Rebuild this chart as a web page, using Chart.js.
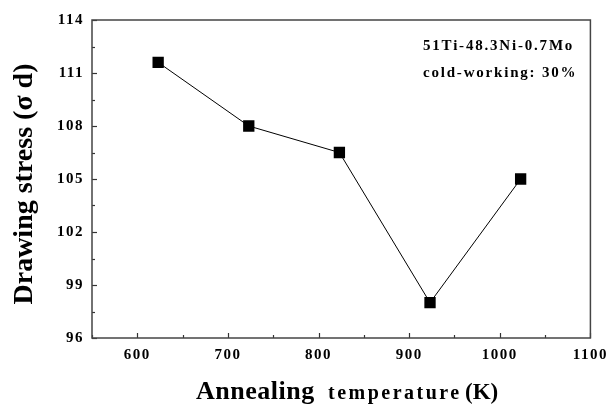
<!DOCTYPE html>
<html>
<head>
<meta charset="utf-8">
<script src="https://cdn.jsdelivr.net/npm/chart.js@4"></script>
<style>
  html, body { margin: 0; padding: 0; background: #fff; }
  #wrap { width: 613px; height: 405px; }
</style>
</head>
<body>
<div id="wrap"><canvas id="stressChart" width="613" height="405"></canvas></div>
<script>
/* =========================
   DATA
========================= */

const temps = [623, 723, 823, 923, 1023];
const stress = [111.6, 108.0, 106.5, 98.0, 105.0];
const xTicks = [600, 700, 800, 900, 1000, 1100];
const yTicks = [96, 99, 102, 105, 108, 111, 114];
const notes = ["51Ti-48.3Ni-0.7Mo", "cold-working: 30%"];

const SERIF = '"Liberation Serif", "Times New Roman", serif';

/* =========================
   FRAME, INWARD TICKS, TITLES
========================= */

const framePlugin = {
  id: "frame",
  beforeDraw(chart) {
    // spaced-out tick labels like the scanned figure
    chart.ctx.letterSpacing = "1.5px";
  },
  afterDraw(chart) {
    const ctx = chart.ctx;
    const a = chart.chartArea;
    const xs = chart.scales.x;
    const ys = chart.scales.y;
    ctx.letterSpacing = "0px";
    ctx.save();

    ctx.strokeStyle = "#333";
    ctx.lineWidth = 1.2;

    // minor + major ticks on the bottom axis
    for (let v = 550; v <= 1100; v += 50) {
      const px = Math.round(xs.getPixelForValue(v)) + 0.5;
      const len = v % 100 === 0 ? 5 : 3;
      ctx.beginPath();
      ctx.moveTo(px, a.bottom);
      ctx.lineTo(px, a.bottom - len);
      ctx.stroke();
    }

    // minor + major ticks on the left axis
    for (let v = 96; v <= 114; v += 1.5) {
      const py = Math.round(ys.getPixelForValue(v)) + 0.5;
      const len = v % 3 === 0 ? 5 : 3;
      ctx.beginPath();
      ctx.moveTo(a.left, py);
      ctx.lineTo(a.left + len, py);
      ctx.stroke();
    }

    ctx.lineWidth = 1.5;
    ctx.strokeStyle = "#444";
    ctx.strokeRect(a.left, a.top, a.right - a.left, a.bottom - a.top);

    // note in top right
    ctx.fillStyle = "#000";
    ctx.font = "bold 15px " + SERIF;
    ctx.textAlign = "left";
    ctx.textBaseline = "alphabetic";
    ctx.letterSpacing = "1.8px";
    ctx.fillText(notes[0], 423, 50);
    ctx.fillText(notes[1], 423, 77);

    // x title, mixed sizes
    ctx.letterSpacing = "0.5px";
    ctx.font = "bold 26px " + SERIF;
    ctx.fillText("Annealing", 196, 399);
    ctx.letterSpacing = "2.5px";
    ctx.font = "bold 20px " + SERIF;
    ctx.fillText("temperature", 328, 399);
    ctx.letterSpacing = "0px";
    ctx.font = "bold 23px " + SERIF;
    ctx.fillText("(K)", 465, 399);

    // y title
    ctx.translate(25, 184);
    ctx.rotate(-Math.PI / 2);
    ctx.textAlign = "center";
    ctx.textBaseline = "middle";
    ctx.font = "bold 28px " + SERIF;
    ctx.fillText("Drawing stress (\u03c3 d)", 0, 0);

    ctx.restore();
  },
};

/* =========================
   CHART
========================= */

const points = temps.map((t, i) => ({ x: t, y: stress[i] }));

new Chart(document.getElementById("stressChart"), {
  type: "line",
  data: {
    datasets: [
      {
        data: points,
        borderColor: "#000",
        borderWidth: 1,
        backgroundColor: "#000",
        pointStyle: "rect",
        pointRadius: 8,
        pointHoverRadius: 8,
        pointBorderWidth: 0,
        tension: 0,
      },
    ],
  },
  options: {
    responsive: false,
    animation: false,
    events: [],
    layout: { padding: { left: 0, right: 20, top: 20, bottom: 0 } },
    plugins: { legend: { display: false }, tooltip: { enabled: false } },
    scales: {
      x: {
        type: "linear",
        min: 550,
        max: 1100,
        afterBuildTicks(scale) {
          scale.ticks = xTicks.map((v) => ({ value: v }));
        },
        afterFit(scale) {
          scale.height = 67;
        },
        grid: { display: false, drawTicks: false },
        border: { display: false },
        ticks: {
          padding: 8,
          color: "#000",
          font: { family: SERIF, size: 15, weight: "bold" },
          maxRotation: 0,
          autoSkip: false,
          callback: (v) => String(v),
        },
      },
      y: {
        min: 96,
        max: 114,
        afterBuildTicks(scale) {
          scale.ticks = yTicks.map((v) => ({ value: v }));
        },
        afterFit(scale) {
          scale.width = 92;
        },
        grid: { display: false, drawTicks: false },
        border: { display: false },
        ticks: {
          padding: 8,
          color: "#000",
          font: { family: SERIF, size: 15, weight: "bold" },
          autoSkip: false,
          callback: (v) => String(v),
        },
      },
    },
  },
  plugins: [framePlugin],
});
</script>
</body>
</html>
